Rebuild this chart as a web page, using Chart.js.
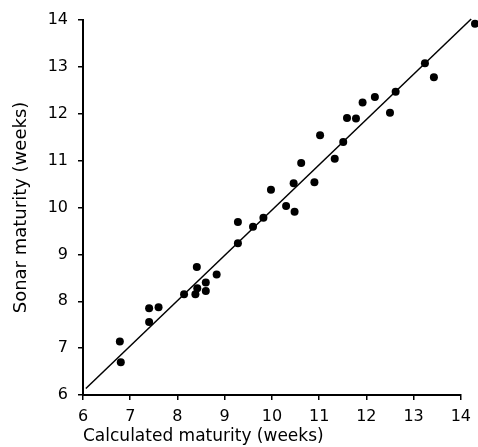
<!DOCTYPE html>
<html>
<head>
<meta charset="utf-8">
<script src="https://cdn.jsdelivr.net/npm/chart.js@4/dist/chart.umd.min.js"></script>
<style>
  html, body { margin: 0; padding: 0; background: #fff; }
  #wrap { width: 478px; height: 447px; position: relative; }
</style>
</head>
<body>
<div id="wrap"><canvas id="maturityChart"></canvas></div>
<script>
// Calculated vs sonar maturity (weeks)
const calcWeeks  = [14.30, 13.24, 13.43, 12.62, 12.18, 11.92, 11.59, 11.78, 12.50, 11.02,
                    11.51, 11.33, 10.62, 10.46, 10.90, 9.98, 10.30, 10.48, 9.82, 9.60,
                    9.28, 9.28, 8.41, 8.83, 8.60, 8.42, 8.60, 8.38, 8.14, 7.40,
                    7.60, 7.40, 6.78, 6.80];
const sonarWeeks = [13.92, 13.08, 12.78, 12.47, 12.36, 12.24, 11.91, 11.90, 12.02, 11.54,
                    11.40, 11.04, 10.95, 10.52, 10.54, 10.38, 10.03, 9.91, 9.78, 9.59,
                    9.69, 9.24, 8.73, 8.57, 8.40, 8.28, 8.22, 8.15, 8.15, 7.85,
                    7.87, 7.56, 7.14, 6.70];

// fitted line end points
const fitX = [6.06, 14.22];
const fitY = [6.14, 14.02];

const axisTicks = [6, 7, 8, 9, 10, 11, 12, 13, 14];

const FONT = 'DejaVu Sans';

// the last point sits past x = 14; widen the draw area so Chart.js doesn't skip it
const overflowPlugin = {
  id: 'overflow',
  beforeDatasetsDraw(chart) {
    chart._savedArea = chart.chartArea;
    chart.chartArea = { ...chart.chartArea, right: chart.width, top: 0 };
  },
  afterDatasetsDraw(chart) {
    if (chart._savedArea) chart.chartArea = chart._savedArea;
  }
};

function axisOptions(title, isY) {
  return {
    type: 'linear',
    min: 6,
    max: 14,
    afterBuildTicks: (scale) => { scale.ticks = axisTicks.map(v => ({ value: v })); },
    afterFit: (scale) => {
      if (isY) scale.width = 83;
      else scale.height = 52;
    },
    grid: { drawOnChartArea: false, drawTicks: true, tickLength: 5, color: '#000', lineWidth: 1.5 },
    border: { display: true, color: '#000', width: 2 },
    ticks: {
      color: '#000',
      padding: isY ? 10 : 7,
      font: { family: FONT, size: 16 },
      maxRotation: 0,
      autoSkip: false
    },
    title: {
      display: true,
      text: title,
      color: '#000',
      align: isY ? 'center' : 'start',
      font: { family: FONT, size: isY ? 18 : 17 },
      padding: isY ? { top: 11, bottom: 0 } : { top: 0, bottom: 0 }
    }
  };
}

function renderChart() {
  const ctx = document.getElementById('maturityChart').getContext('2d');
  const points = calcWeeks.map((x, i) => ({ x, y: sonarWeeks[i] }));
  const line = fitX.map((x, i) => ({ x, y: fitY[i] }));

  new Chart(ctx, {
    type: 'scatter',
    data: {
      datasets: [
        {
          data: points,
          backgroundColor: '#000',
          borderColor: '#000',
          pointRadius: 4,
          pointBorderWidth: 0,
          clip: false
        },
        {
          type: 'line',
          data: line,
          borderColor: '#000',
          borderWidth: 1.5,
          pointRadius: 0,
          fill: false,
          clip: false
        }
      ]
    },
    options: {
      responsive: true,
      maintainAspectRatio: false,
      animation: false,
      layout: { padding: { left: 0, right: 17, top: 20, bottom: 0 } },
      plugins: { legend: { display: false }, tooltip: { enabled: false } },
      scales: {
        x: axisOptions('Calculated maturity (weeks)', false),
        y: axisOptions('Sonar maturity (weeks)', true)
      }
    },
    plugins: [overflowPlugin]
  });
}

document.addEventListener('DOMContentLoaded', renderChart);
</script>
</body>
</html>
